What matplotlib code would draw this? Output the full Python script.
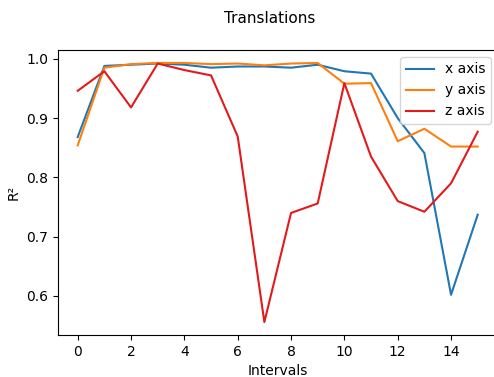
import matplotlib
matplotlib.use("Agg")
import matplotlib.pyplot as plt

intervals = list(range(16))
x_axis = [0.868, 0.988, 0.990, 0.992, 0.990, 0.985, 0.987, 0.987, 0.985, 0.990, 0.979, 0.975, 0.900, 0.841, 0.602, 0.737]
y_axis = [0.854, 0.985, 0.991, 0.993, 0.993, 0.991, 0.992, 0.989, 0.992, 0.993, 0.958, 0.959, 0.861, 0.882, 0.852, 0.852]
z_axis = [0.946, 0.979, 0.918, 0.992, 0.981, 0.972, 0.869, 0.556, 0.740, 0.756, 0.959, 0.835, 0.760, 0.742, 0.790, 0.877]
labels = ["x axis", "y axis", "z axis"]
colors = ["#1f77b4", "#ff7f0e", "#e31a1c"]

fig = plt.figure(figsize=(4.94, 3.77), dpi=100)
ax = fig.add_axes([0.1168, 0.1114, 0.8907, 0.756])
for vals, lab, c in zip([x_axis, y_axis, z_axis], labels, colors):
    ax.plot(intervals, vals, color=c, label=lab, linewidth=1.5)
ax.set_xticks([0, 2, 4, 6, 8, 10, 12, 14])
ax.set_xlabel("Intervals")
ax.set_ylabel("R²")
fig.suptitle("Translations", x=0.546, y=0.97, fontsize=11)
ax.legend(loc="upper right")
fig.savefig("out.png", dpi=100)
